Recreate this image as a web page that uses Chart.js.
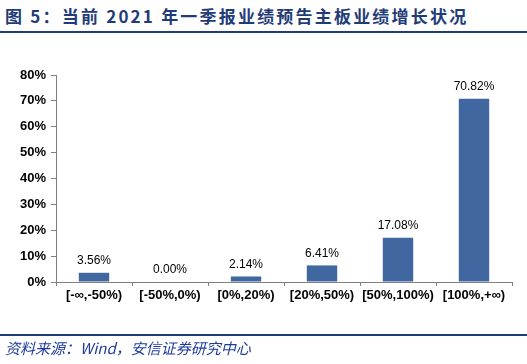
<!DOCTYPE html>
<html>
<head>
<meta charset="utf-8">
<script src="https://cdn.jsdelivr.net/npm/chart.js"></script>
<style>
  html, body { margin:0; padding:0; background:#fff; }
  #wrap { position:relative; width:527px; height:364px; overflow:hidden; }
  #title { position:absolute; left:5px; top:3px; font:bold 17px "Noto Sans CJK SC", "Liberation Sans", sans-serif; color:#1f3c78; white-space:nowrap; letter-spacing:2.2px; }
  .rule { position:absolute; left:0; width:527px; height:2px; background:#1f3c78; }
  #source { position:absolute; left:5px; top:337px; font:italic 15px "Noto Sans CJK SC", "Liberation Sans", sans-serif; color:#1f3c9c; white-space:nowrap; }
  canvas { position:absolute; left:0; top:0; }
</style>
</head>
<body>
<div id="wrap">
  <div id="title">图 5：当前 2021 年一季报业绩预告主板业绩增长状况</div>
  <div class="rule" style="top:31px"></div>
  <canvas id="c" width="527" height="364"></canvas>
  <div class="rule" style="top:334px"></div>
  <div id="source">资料来源：Wind，安信证券研究中心</div>
</div>
<script>
// categories and values (%)
var categories = ['[-∞,-50%)', '[-50%,0%)', '[0%,20%)', '[20%,50%)', '[50%,100%)', '[100%,+∞)'];
var values     = [3.56, 0.00, 2.14, 6.41, 17.08, 70.82];
var yTicks     = [0, 10, 20, 30, 40, 50, 60, 70, 80];

// labels above bars
var barLabels = {
  id: 'barLabels',
  afterDatasetsDraw: function(chart){
    var ctx = chart.ctx;
    var meta = chart.getDatasetMeta(0);
    ctx.save();
    ctx.font = '12px "Liberation Sans", Arial, sans-serif';
    ctx.fillStyle = '#000';
    ctx.textAlign = 'center';
    ctx.textBaseline = 'bottom';
    meta.data.forEach(function(bar, i){
      ctx.fillText(values[i].toFixed(2) + '%', bar.x, bar.y - 6);
    });
    ctx.restore();
  }
};

var tickFont = { family: '"Liberation Sans", Arial, sans-serif', size: 13, weight: 'bold' };

new Chart(document.getElementById('c'), {
  type: 'bar',
  data: {
    labels: categories,
    datasets: [{
      data: values,
      backgroundColor: '#4167a1',
      categoryPercentage: 1,
      barPercentage: 0.4
    }]
  },
  options: {
    responsive: false,
    animation: false,
    layout: { padding: { left: 0, right: 15, top: 75, bottom: 52 } },
    plugins: { legend: { display: false }, tooltip: { enabled: false } },
    scales: {
      x: {
        offset: true,
        grid: { offset: true, drawOnChartArea: false, drawTicks: true, tickLength: 4, color: '#808080' },
        border: { color: '#808080' },
        ticks: { color: '#000', font: tickFont, padding: 2, maxRotation: 0, autoSkip: false },
        afterFit: function(s){ s.height = 30; }
      },
      y: {
        min: 0, max: 80,
        afterBuildTicks: function(s){ s.ticks = yTicks.map(function(v){ return { value: v }; }); },
        grid: { drawOnChartArea: false, drawTicks: true, tickLength: 5, color: '#808080' },
        border: { color: '#808080' },
        ticks: { color: '#000', font: tickFont, padding: 5,
                 callback: function(v){ return v + '%'; } },
        afterFit: function(s){ s.width = 56; }
      }
    }
  },
  plugins: [barLabels]
});
</script>
</body>
</html>
